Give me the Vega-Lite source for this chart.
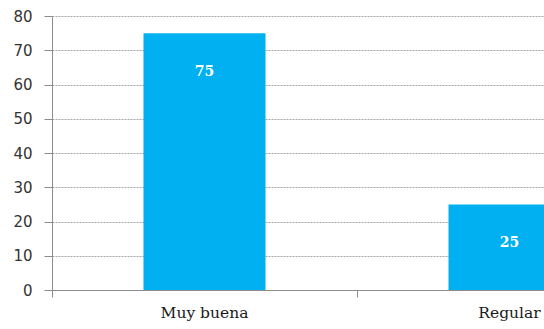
{
  "$schema": "https://vega.github.io/schema/vega-lite/v6.json",
  "autosize": {"type": "none"},
  "padding": {"left": 52, "top": 16, "right": 0, "bottom": 39},
  "width": 610,
  "height": 274,
  "background": "white",
  "data": {"values": [
    {"categoria": "Muy buena", "valor": 75},
    {"categoria": "Regular", "valor": 25}
  ]},
  "config": {"view": {"stroke": null}},
  "resolve": {"axis": {"x": "independent", "y": "independent"}},
  "layer": [
    {
      "mark": {"type": "bar", "color": "#00B0F0"},
      "encoding": {
        "x": {
          "field": "categoria", "type": "nominal", "sort": null,
          "scale": {"paddingInner": 0.6, "paddingOuter": 0.3},
          "axis": {
            "orient": "bottom",
            "title": null, "labelAngle": 0, "ticks": false, "domain": true,
            "domainColor": "#8c8c8c", "domainWidth": 1,
            "labelFont": "DejaVu Serif", "labelFontSize": 15.5, "labelColor": "#1a1a1a",
            "labelPadding": 15
          }
        },
        "y": {
          "field": "valor", "type": "quantitative",
          "scale": {"domain": [0, 80], "nice": false},
          "axis": {
            "title": null, "values": [0, 10, 20, 30, 40, 50, 60, 70, 80],
            "labelOverlap": false,
            "grid": true, "gridColor": "#a6a6a6", "gridDash": [2, 1], "gridWidth": 1,
            "domainColor": "#8c8c8c", "tickColor": "#8c8c8c", "tickSize": 8, "ticks": true,
            "labelFont": "DejaVu Sans", "labelFontSize": 15, "labelColor": "#333333",
            "labelPadding": 12
          }
        }
      }
    },
    {
      "mark": {"type": "text", "color": "white", "font": "DejaVu Serif", "fontWeight": "bold", "fontSize": 14, "baseline": "middle", "dy": 39},
      "encoding": {
        "x": {
          "field": "categoria", "type": "nominal", "sort": null,
          "axis": {
            "orient": "bottom",
            "title": null, "labels": false, "domain": false, "grid": false,
            "ticks": true, "bandPosition": -0.75, "tickColor": "#8c8c8c", "tickSize": 7
          }
        },
        "y": {"field": "valor", "type": "quantitative", "axis": null},
        "text": {"field": "valor", "type": "quantitative"}
      }
    }
  ]
}
